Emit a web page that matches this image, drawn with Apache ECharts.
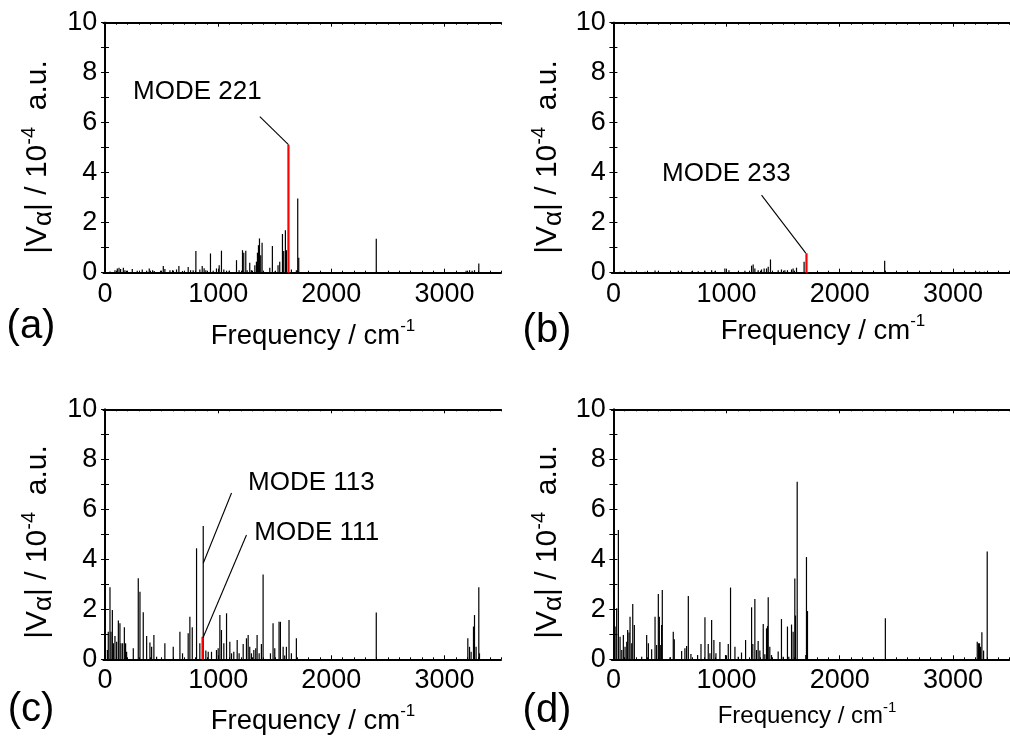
<!DOCTYPE html>
<html>
<head>
<meta charset="utf-8">
<script src="https://cdn.jsdelivr.net/npm/echarts@6/dist/echarts.min.js"></script>
<style>
html,body{margin:0;padding:0;background:#fff;}
#main{width:1010px;height:740px;}
</style>
</head>
<body>
<div id="main"></div>
<script>
// ---------- data ----------
const xMajorTicks = [0, 1000, 2000, 3000];
const xMinorStep = 100;
const xMin = -15, xMax = 3500;
const yMin = 0, yMax = 10, yStep = 2;

// panel (a)
const aFreq = [44,88,109,124,138,162,176,191,241,285,329,368,391,421,435,491,515,529,574,597,632,653,685,735,756,779,803,838,859,876,891,932,956,985,1009,1029,1050,1074,1097,1162,1185,1215,1226,1244,1256,1279,1294,1324,1338,1347,1356,1365,1376,1388,1456,1479,1500,1529,1544,1568,1579,1594,1603,1647,1691,1703,1712,2397,3191,3221,3244,3265,3303];
const aVal  = [0.05,0.1,0.17,0.2,0.15,0.2,0.1,0.08,0.15,0.08,0.13,0.08,0.17,0.1,0.07,0.08,0.27,0.15,0.1,0.1,0.13,0.27,0.07,0.23,0.1,0.1,0.87,0.13,0.27,0.18,0.1,0.77,0.08,0.17,0.3,0.88,0.13,0.08,0.08,0.5,0.1,0.9,0.8,0.88,0.1,0.4,0.1,0.3,0.44,0.8,1.1,1.37,0.7,1.2,0.2,1.07,0.05,0.3,0.44,1.55,0.87,1.7,0.9,0.13,0.1,2.97,0.6,1.36,0.08,0.1,0.08,0.1,0.37];
const aRed = [[1621, 5.12]];
const aLabel = ['MODE 221', 816, 7.24];
const aLeaders = [[[1368, 6.24], [1621, 5.12]]];

// panel (b)
const bFreq = [59,103,162,279,368,397,574,603,691,750,809,868,897,985,1021,1103,1162,1221,1235,1250,1279,1309,1332,1353,1368,1388,1456,1485,1515,1538,1574,1588,1618,1685,2397,3206,3235,3279];
const bVal  = [0.04,0.05,0.04,0.04,0.09,0.05,0.08,0.05,0.05,0.06,0.08,0.1,0.06,0.17,0.1,0.04,0.08,0.28,0.33,0.17,0.1,0.13,0.17,0.17,0.24,0.53,0.1,0.13,0.1,0.1,0.13,0.17,0.2,0.44,0.48,0.04,0.05,0.04];
const bRed = [[1706, 0.78]];
const bLabel = ['MODE 233', 998, 3.94];
const bLeaders = [[[1309, 3.1], [1700, 0.78]]];

// panel (c)
const cFreq = [21,29,44,53,65,74,88,103,118,132,141,156,171,182,191,250,294,309,338,368,397,412,432,456,529,603,662,685,735,750,771,809,838,868,891,912,941,985,1000,1015,1029,1050,1074,1103,1118,1138,1168,1185,1221,1250,1265,1279,1294,1315,1332,1344,1362,1382,1397,1462,1485,1500,1538,1550,1574,1588,1603,1626,1647,1691,2397,3206,3221,3235,3256,3265,3279,3303,3309];
const cVal  = [0.37,1.1,2.88,1.1,1.97,0.64,0.93,0.7,1.55,1.44,0.64,0.64,1.28,0.64,0.3,0.44,3.24,2.7,1.88,0.93,0.67,0.5,0.97,0.1,0.64,0.5,1.1,0.24,1.04,1.7,1.28,4.44,0.64,5.33,0.35,0.3,0.3,0.37,0.44,1.77,1.17,0.64,1.84,0.7,0.24,0.3,0.77,0.24,0.61,0.84,0.97,0.5,0.24,0.37,0.44,0.97,0.24,0.61,3.39,0.24,1.44,0.44,1.5,1.5,0.5,0.15,0.5,1.57,0.24,0.84,1.87,0.84,0.5,0.3,1.31,1.77,0.5,2.88,0.24];
const cRed = [[862, 0.9]];
const cLabels = [['MODE 113', 1824, 7.04], ['MODE 111', 1871, 5.07]];
const cLeaders = [[[1118, 6.65], [868, 3.84]], [[1250, 4.97], [866, 0.86]]];

// panel (d)
const dFreq = [15,29,44,59,74,88,103,118,126,138,147,162,171,185,250,294,309,338,368,382,397,406,418,426,432,500,529,538,603,632,647,662,685,744,774,809,838,853,868,888,906,941,991,1015,1035,1074,1103,1132,1168,1221,1232,1250,1265,1279,1294,1324,1338,1353,1362,1368,1382,1397,1456,1485,1500,1538,1550,1574,1588,1603,1609,1624,1700,1706,1715,2403,3215,3226,3235,3244,3256,3271,3303];
const dVal  = [1.31,2.04,5.17,0.9,0.37,0.97,0.5,0.7,1.17,1.07,1.7,0.64,2.21,1.37,0.1,0.97,0.64,0.4,1.7,0.57,2.61,1.7,0.57,1.37,2.77,0.08,1.1,0.8,0.33,0.44,0.53,2.53,0.21,0.17,0.61,1.68,0.61,0.24,1.57,0.77,0.24,0.69,0.17,0.61,2.87,0.5,0.1,0.27,0.77,2.08,0.61,2.41,0.37,0.73,0.35,1.41,0.2,1.24,1.33,2.48,0.5,0.17,0.31,1.61,0.1,1.31,0.1,1.39,1.1,3.23,1.75,7.1,0.17,4.09,1.93,1.64,0.7,0.64,0.64,0.5,1.08,0.35,4.31];

const panelLetters = ['(a)', '(b)', '(c)', '(d)'];

// ---------- layout ----------
const FONT = "'Liberation Sans', Arial, Helvetica, sans-serif";
const grids = [
  {left: 103.3, top: 22.7, width: 397.8, height: 250},
  {left: 611.7, top: 22.7, width: 397.8, height: 250},
  {left: 103.3, top: 409.3, width: 397.8, height: 250},
  {left: 611.7, top: 409.3, width: 397.8, height: 250}
];
const minorTicks = [];
for (let v = 0; v <= xMax; v += xMinorStep) minorTicks.push(v);

const AXW = 1.8;
const xAxes = [], yAxes = [];
grids.forEach((g, gi) => {
  const base = {type: 'value', gridIndex: gi, min: xMin, max: xMax, splitLine: {show: false}};
  xAxes.push(Object.assign({}, base, {
    position: 'bottom',
    axisLine: {show: true, lineStyle: {color: '#000', width: AXW}},
    axisTick: {show: true, inside: true, length: 4, customValues: xMajorTicks, lineStyle: {color: '#000', width: 1}},
    axisLabel: {show: true, customValues: xMajorTicks, formatter: v => String(v),
                fontSize: 27, color: '#000', fontFamily: FONT, margin: 8}
  }));
  xAxes.push(Object.assign({}, base, {
    position: 'bottom',
    axisLine: {show: false},
    axisTick: {show: true, inside: true, length: 2, customValues: minorTicks, lineStyle: {color: '#000', width: 1}},
    axisLabel: {show: false}
  }));
  xAxes.push(Object.assign({}, base, {
    position: 'top',
    axisLine: {show: true, lineStyle: {color: '#000', width: AXW}},
    axisTick: {show: true, inside: true, length: 4, customValues: xMajorTicks, lineStyle: {color: '#000', width: 1}},
    axisLabel: {show: false}
  }));
  xAxes.push(Object.assign({}, base, {
    position: 'top',
    axisLine: {show: false},
    axisTick: {show: true, inside: true, length: 2, customValues: minorTicks, lineStyle: {color: '#000', width: 1}},
    axisLabel: {show: false}
  }));
  const ybase = {
    type: 'value', gridIndex: gi, min: yMin, max: yMax, interval: yStep,
    splitLine: {show: false}, minorSplitLine: {show: false},
    axisLine: {show: true, lineStyle: {color: '#000', width: AXW}},
    axisTick: {show: true, inside: true, length: 4, lineStyle: {color: '#000', width: 1}},
    minorTick: {show: true, splitNumber: 2, length: 4, lineStyle: {color: '#000', width: 1}}
  };
  yAxes.push(Object.assign({}, ybase, {
    position: 'left',
    axisLabel: {show: true, fontSize: 27, color: '#000', fontFamily: FONT, margin: 6}
  }));
  yAxes.push(Object.assign({}, ybase, {position: 'right', axisLabel: {show: false}}));
});

function stickRender(color, width) {
  return function (params, api) {
    const p0 = api.coord([api.value(0), 0]);
    const p1 = api.coord([api.value(0), api.value(1)]);
    return {type: 'line', shape: {x1: p0[0], y1: p0[1], x2: p1[0], y2: p1[1]},
            style: {stroke: color, lineWidth: width}};
  };
}
function zip(f, v) { return f.map((x, i) => [x, v[i]]); }

function stickSeries(gi, data) {
  return {type: 'custom', xAxisIndex: gi * 4, yAxisIndex: gi * 2, data: data,
          renderItem: stickRender('#000', 1.2), silent: true, animation: false};
}
function redSeries(gi, data, labels, leaders) {
  return {
    type: 'custom', xAxisIndex: gi * 4, yAxisIndex: gi * 2, data: data, z: 3,
    renderItem: stickRender('#ff0000', 2.2), silent: true, animation: false,
    markLine: {
      silent: true, symbol: ['none', 'none'], animation: false,
      label: {show: false},
      lineStyle: {color: '#000', width: 1.1, type: 'solid'},
      emphasis: {disabled: true},
      data: leaders.map(l => [{coord: l[0]}, {coord: l[1]}])
    },
    markPoint: {
      silent: true, animation: false, symbol: 'circle', symbolSize: 1,
      itemStyle: {color: 'rgba(0,0,0,0)'},
      label: {show: true, position: 'inside', formatter: '{b}', fontSize: 26, color: '#000', fontFamily: FONT},
      emphasis: {disabled: true},
      data: labels.map(l => ({name: l[0], coord: [l[1], l[2]]}))
    }
  };
}

const series = [
  stickSeries(0, zip(aFreq, aVal)),
  redSeries(0, aRed, [aLabel], aLeaders),
  stickSeries(1, zip(bFreq, bVal)),
  redSeries(1, bRed, [bLabel], bLeaders),
  stickSeries(2, zip(cFreq, cVal)),
  redSeries(2, cRed, cLabels, cLeaders),
  stickSeries(3, zip(dFreq, dVal))
];

// ---------- titles ----------
const yTitleRich = {
  n: {fontSize: 30, fontFamily: FONT, color: '#000', lineHeight: 38},
  s: {fontSize: 26, fontFamily: FONT, color: '#000', lineHeight: 26, verticalAlign: 'bottom'},
  p: {fontSize: 20, fontFamily: FONT, color: '#000', lineHeight: 20, verticalAlign: 'top'}
};
function xTitleRich(fs) {
  return {
    n: {fontSize: fs, fontFamily: FONT, color: '#000', lineHeight: fs + 8},
    p: {fontSize: Math.round(fs * 0.62), fontFamily: FONT, color: '#000', lineHeight: Math.round(fs * 0.62), verticalAlign: 'top'}
  };
}
const yTitleText = '{n||V}{s|α}{n|| / 10}{p|-4}{n|  a.u.}';
const xTitleText = '{n|Frequency / cm}{p|-1}';

const yTitlePos = [[38, 157], [548, 157], [38, 542], [548, 542]];
const xTitlePos = [[313, 336], [823, 331], [313, 721], [807, 716]];
const xTitleSize = [27.5, 27.5, 27.5, 24];
const letterPos = [[31, 327], [547, 331], [31, 710], [547, 711]];

const graphic = [];
for (let i = 0; i < 4; i++) {
  graphic.push({type: 'text', x: yTitlePos[i][0], y: yTitlePos[i][1], rotation: Math.PI / 2,
    style: {text: yTitleText, rich: yTitleRich, align: 'center', verticalAlign: 'middle'}});
  graphic.push({type: 'text', x: xTitlePos[i][0], y: xTitlePos[i][1],
    style: {text: xTitleText, rich: xTitleRich(xTitleSize[i]), align: 'center', verticalAlign: 'middle'}});
  graphic.push({type: 'text', x: letterPos[i][0], y: letterPos[i][1],
    style: {text: panelLetters[i], font: '40px ' + FONT, fill: '#000', align: 'center', verticalAlign: 'middle'}});
}

const chart = echarts.init(document.getElementById('main'), null, {renderer: 'canvas'});
chart.setOption({
  animation: false,
  backgroundColor: '#fff',
  grid: grids.map(g => Object.assign({outerBoundsMode: 'none', containLabel: false}, g)),
  xAxis: xAxes,
  yAxis: yAxes,
  series: series,
  graphic: graphic
});
</script>
</body>
</html>
